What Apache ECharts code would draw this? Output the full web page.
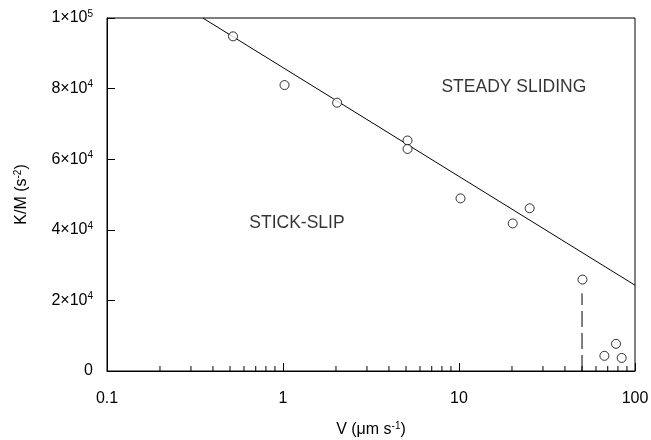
<!DOCTYPE html>
<html>
<head>
<meta charset="utf-8">
<script src="https://cdn.jsdelivr.net/npm/echarts@6/dist/echarts.min.js"></script>
<style>
  html, body { margin: 0; padding: 0; background: #fff; }
  #main { width: 651px; height: 440px; }
</style>
</head>
<body>
<div id="main"></div>
<script>
// measured points (V in um/s, K/M in s^-2)
const velocity = [0.52, 1.02, 2.03, 5.1, 5.1, 10.2, 20.2, 25.2, 50.3, 67, 78, 84];
const stiffness = [94800, 81000, 76000, 65300, 62900, 48900, 41800, 46100, 25900, 4300, 7700, 3700];

// fitted boundary line
const fitV = [0.35, 100];
const fitKM = [100000, 24300];

// dashed drop line
const dashV = [50, 50];
const dashKM = [0, 22000];

// region labels
const regionNames = ['STEADY SLIDING', 'STICK-SLIP'];
const regionV = [20.5, 1.2];
const regionKM = [80300, 41800];

// axis ticks
const xMinorTicks = [0.2, 0.3, 0.4, 0.5, 0.6, 0.7, 0.8, 0.9,
  2, 3, 4, 5, 6, 7, 8, 9, 20, 30, 40, 50, 60, 70, 80, 90];
const yTickValues = [0, 20000, 40000, 60000, 80000, 100000];
const yTickLabels = ['{n|0}', '{n|2×10}{sup|4}', '{n|4×10}{sup|4}', '{n|6×10}{sup|4}', '{n|8×10}{sup|4}', '{n|1×10}{sup|5}'];

const chart = echarts.init(document.getElementById('main'));
const font = 'Liberation Sans, Arial, sans-serif';

const richText = {
  n: { fontSize: 16, fontFamily: font, color: '#000', lineHeight: 18 },
  sup: { fontSize: 10, fontFamily: font, color: '#000', verticalAlign: 'top', lineHeight: 10 }
};

const option = {
  backgroundColor: '#fff',
  animation: false,
  grid: {
    left: 107, right: 16, top: 18, bottom: 69,
    outerBoundsMode: 'none',
    containLabel: false,
    show: true, borderColor: '#000', borderWidth: 1
  },
  xAxis: {
    type: 'log',
    logBase: 10,
    min: 0.1,
    max: 100,
    name: '{n|V (μm s}{sup|-1}{n|)}',
    nameLocation: 'middle',
    nameGap: 50,
    nameTextStyle: { rich: richText },
    axisLine: { lineStyle: { color: '#000', width: 1 } },
    axisTick: { inside: true, length: 8, lineStyle: { color: '#000' } },
    axisLabel: {
      color: '#000', fontSize: 16, fontFamily: font, margin: 20,
      formatter: function (v) { return String(v); }
    },
    splitLine: { show: false }
  },
  yAxis: {
    type: 'value',
    min: 0,
    max: 100000,
    interval: 20000,
    name: '{n|K/M (s}{sup|-2}{n|)}',
    nameLocation: 'middle',
    nameGap: 76,
    nameTextStyle: { rich: richText },
    axisLine: { show: true, lineStyle: { color: '#000', width: 1 } },
    axisTick: { inside: true, length: 8, lineStyle: { color: '#000' } },
    axisLabel: {
      margin: 14,
      formatter: function (v) {
        const i = yTickValues.indexOf(v);
        return i >= 0 ? yTickLabels[i] : '';
      },
      rich: richText
    },
    splitLine: { show: false }
  },
  series: [
    {
      type: 'line',
      data: fitV.map((v, i) => [v, fitKM[i]]),
      symbol: 'none',
      lineStyle: { color: '#000', width: 1 },
      z: 2
    },
    {
      type: 'line',
      data: dashV.map((v, i) => [v, dashKM[i]]),
      symbol: 'none',
      lineStyle: { color: '#000', width: 1, type: [16, 6] },
      z: 2
    },
    {
      type: 'scatter',
      data: velocity.map((v, i) => [v, stiffness[i]]),
      symbol: 'circle',
      symbolSize: 9,
      itemStyle: { color: '#fff', borderColor: '#000', borderWidth: 1 },
      z: 3
    },
    {
      type: 'scatter',
      data: regionV.map((v, i) => ({ value: [v, regionKM[i]], name: regionNames[i] })),
      symbolSize: 0,
      silent: true,
      label: {
        show: true, position: 'inside', formatter: '{b}',
        color: '#000', fontSize: 17.5, fontFamily: font
      }
    },
    {
      type: 'custom',
      data: xMinorTicks.map(v => [v, 0]),
      silent: true,
      clip: false,
      renderItem: function (params, api) {
        const p = api.coord([api.value(0), 0]);
        return {
          type: 'line',
          shape: { x1: p[0], y1: p[1], x2: p[0], y2: p[1] - 5 },
          style: { stroke: '#000', lineWidth: 1 }
        };
      }
    }
  ]
};

chart.setOption(option);
</script>
</body>
</html>
